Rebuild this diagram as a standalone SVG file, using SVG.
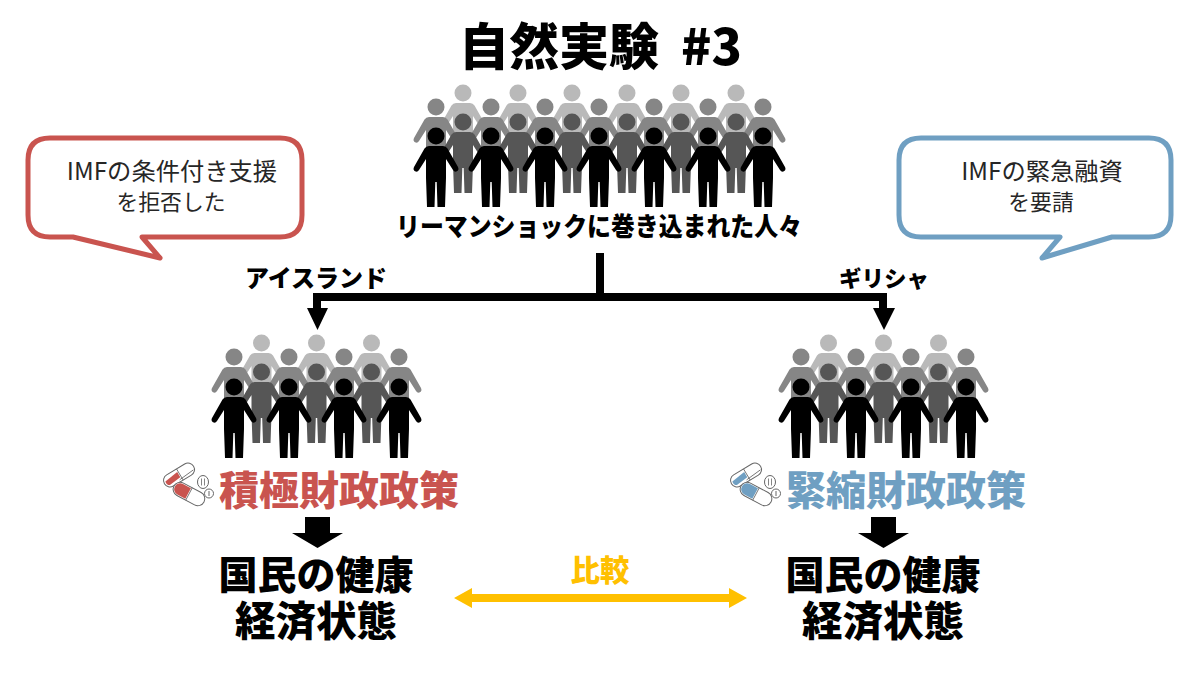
<svg xmlns="http://www.w3.org/2000/svg" width="1200" height="675" viewBox="0 0 1200 675">
<style>
text{font-family:"Noto Sans CJK JP","Noto Sans",sans-serif;text-anchor:middle}
.h{font-weight:900;fill:#000}
.c{font-size:24.300px;fill:#262626}
.c2{font-size:21.800px}
.bub{fill:#fff;stroke-width:5;stroke-linejoin:round}
.l1{fill:#b9b9b9}.l2{fill:#868686}.l3{fill:#565656}.l4{fill:#000}
.red{color:#c9544f}.blue{color:#6f9fc2}
.pl{fill:#fff;stroke:#666;stroke-width:1}
</style>
<defs>
<g id="p">
<circle cx="0" cy="0" r="8.500"/>
<path d="M-7,10H7Q10,10 11.500,12.500L22,31Q23.300,34 21,35.300Q18.500,36.500 17,34L10,23V42L9,71H1.500L.7,46H-.7L-1.500,71H-9L-10,42V23L-17,34Q-18.500,36.500 -21,35.300Q-23.300,34 -22,31L-11.500,12.500Q-10,10 -7,10Z"/>
</g>
<g id="crowd4">
<g class="l1"><use href="#p" x="27.500" y="-44"/><use href="#p" x="82.500" y="-44"/><use href="#p" x="137.500" y="-44"/></g>
<g class="l2"><use href="#p" x="0" y="-30"/><use href="#p" x="55" y="-30"/><use href="#p" x="110" y="-30"/><use href="#p" x="165" y="-30"/></g>
<g class="l3"><use href="#p" x="27.500" y="-15"/><use href="#p" x="82.500" y="-15"/><use href="#p" x="137.500" y="-15"/></g>
<g class="l4"><use href="#p" x="0" y="0"/><use href="#p" x="55" y="0"/><use href="#p" x="110" y="0"/><use href="#p" x="165" y="0"/></g>
</g>
<g id="pills">
<g transform="translate(179,475) rotate(-31)"><rect x="-17" y="-6.500" width="34" height="13" rx="6.500" class="pl"/><path d="M-15,-1.500L0,-3.500V2.500L-13,4Q-16,2 -15,-1.500Z" fill="currentColor"/><path d="M1,-6.500V6.500M-2,4.500L15,3" stroke="#666" stroke-width=".8" fill="none"/></g>
<g transform="translate(189,494) rotate(28)"><rect x="-17" y="-7" width="34" height="14" rx="7" class="pl"/><path d="M-16,0a6,6 0 0 1 6,-6h9v12h-9a6,6 0 0 1 -6,-6z" fill="currentColor"/><path d="M0,-7V7" stroke="#666" stroke-width=".8"/></g>
<ellipse cx="203" cy="482" rx="5.500" ry="6.500" class="pl"/><path d="M201.500,478.500V485.500M204.500,478.500V485.500" stroke="#666" stroke-width=".8"/>
<circle cx="209" cy="493.500" r="4.500" class="pl"/><path d="M209,491V496" stroke="#666" stroke-width="1"/>
</g>
</defs>

<g id="title"><text y="65" class="h" font-size="50" style="text-anchor:start"><tspan x="459">自然実験</tspan><tspan x="681">#3</tspan></text></g>

<g id="crowd-top">
<g class="l1"><use href="#p" x="463" y="93"/><use href="#p" x="518" y="93"/><use href="#p" x="572" y="93"/><use href="#p" x="627" y="93"/><use href="#p" x="681" y="93"/><use href="#p" x="736" y="93"/></g>
<g class="l2"><use href="#p" x="436" y="107"/><use href="#p" x="491" y="107"/><use href="#p" x="545" y="107"/><use href="#p" x="599" y="107"/><use href="#p" x="654" y="107"/><use href="#p" x="708" y="107"/><use href="#p" x="763" y="107"/></g>
<g class="l3"><use href="#p" x="463" y="122"/><use href="#p" x="518" y="122"/><use href="#p" x="572" y="122"/><use href="#p" x="627" y="122"/><use href="#p" x="681" y="122"/><use href="#p" x="736" y="122"/></g>
<g class="l4"><use href="#p" x="436" y="136"/><use href="#p" x="491" y="136"/><use href="#p" x="545" y="136"/><use href="#p" x="599" y="136"/><use href="#p" x="654" y="136"/><use href="#p" x="708" y="136"/><use href="#p" x="763" y="136"/></g>
<text x="599" y="236" class="h" font-size="26" textLength="406" lengthAdjust="spacingAndGlyphs">リーマンショックに巻き込まれた人々</text>
</g>

<g id="callout-left">
<path class="bub" stroke="#c9544f" d="M50,138H280Q302,138 302,160V215Q302,237 280,237H142L160,258L73,237H50Q28,237 28,215V160Q28,138 50,138Z"/>
<text class="c"><tspan x="172" y="180">IMFの条件付き支援</tspan><tspan x="171" y="210" class="c2">を拒否した</tspan></text>
</g>
<g id="callout-right">
<path class="bub" stroke="#6f9fc2" d="M921,138H1149Q1171,138 1171,160V215Q1171,237 1149,237H1112L1042,258L1060,237H921Q899,237 899,215V160Q899,138 921,138Z"/>
<text class="c"><tspan x="1042" y="180">IMFの緊急融資</tspan><tspan x="1041" y="210" class="c2">を要請</tspan></text>
</g>

<g id="connectors">
<path d="M600,253V297" fill="none" stroke="#000" stroke-width="8"/>
<path d="M313,293H887V308H895L884,330L873,308H879V301H321V308H328L317.500,330L307,308H313Z" fill="#000"/>
<path d="M305,517H330V533H343L317.500,548L292,533H305Z" fill="#000"/>
<path d="M871,517H896V533H909L883.500,548L858,533H871Z" fill="#000"/>
<path d="M454,598L472,588V594H729V588L747,598L729,608V602H472V608Z" fill="#ffc000"/>
</g>
<g id="label-iceland"><text x="316" y="287" class="h" font-size="24">アイスランド</text></g>
<g id="label-greece"><text x="884" y="287" class="h" font-size="22.500">ギリシャ</text></g>
<g id="label-compare"><text x="600" y="581" font-size="29.500" font-weight="900" fill="#ffc000">比較</text></g>

<g id="group-left">
<use href="#crowd4" x="234" y="387"/>
<use href="#pills" class="red"/>
<text x="339" y="505" font-size="40" font-weight="900" fill="#c9544f">積極財政政策</text>
</g>
<g id="group-right">
<use href="#crowd4" x="801" y="387"/>
<use href="#pills" x="567" class="blue"/>
<text x="906" y="505" font-size="40" font-weight="900" fill="#6f9fc2">緊縮財政政策</text>
</g>
<g id="outcome-left">
<text class="h" font-size="39"><tspan x="316" y="589">国民の健康</tspan><tspan x="316" y="636" font-size="40.500">経済状態</tspan></text>
</g>
<g id="outcome-right">
<text class="h" font-size="39"><tspan x="883" y="589">国民の健康</tspan><tspan x="883" y="636" font-size="40.500">経済状態</tspan></text>
</g>
</svg>
